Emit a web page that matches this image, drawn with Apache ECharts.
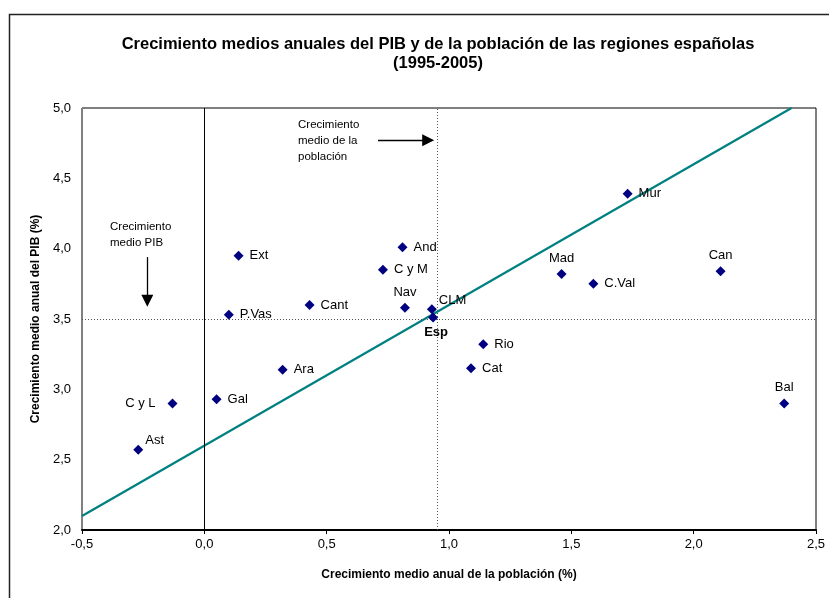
<!DOCTYPE html>
<html>
<head>
<meta charset="utf-8">
<script src="https://cdn.jsdelivr.net/npm/echarts@6/dist/echarts.min.js"></script>
<style>
html,body{margin:0;padding:0;background:#fff;}
#chart{width:829px;height:598px;}
</style>
</head>
<body>
<div id="chart"></div>
<script>
// Data
const regions   = ['Ext','And','C y M','Nav','CLM','Esp','P.Vas','Cant','Mur','Mad','C.Val','Can','Rio','Cat','Bal','Ara','Gal','C y L','Ast'];
const popGrowth = [0.14, 0.81, 0.73, 0.82, 0.93, 0.935, 0.10, 0.43, 1.73, 1.46, 1.59, 2.11, 1.14, 1.09, 2.37, 0.32, 0.05, -0.13, -0.27];
const gdpGrowth = [3.95, 4.01, 3.85, 3.58, 3.57, 3.51, 3.53, 3.60, 4.39, 3.82, 3.75, 3.84, 3.32, 3.15, 2.90, 3.14, 2.93, 2.90, 2.57];
const labelPlace = ['right','right','right','top','topright','bottom','right','right','right','top','right','top','right','right','top','right','right','left','topright'];
const trendX = [-0.5, 2.4];
const trendY = [2.1, 5.0];
const meanPop = 0.95;
const meanGdp = 3.5;
const xTicks = [-0.5, 0, 0.5, 1.0, 1.5, 2.0, 2.5];
const yTicks = [2.0, 2.5, 3.0, 3.5, 4.0, 4.5, 5.0];
const arrowPop = [[0.71, 4.77], [0.915, 4.77]];
const arrowGdp = [[-0.233, 3.94], [-0.233, 3.63]];

const FONT = 'Liberation Sans, Arial, sans-serif';
const fmt = v => v.toFixed(1).replace('.', ',');

function labelFor(p, i) {
  const base = {show: true, formatter: regions[i], color: '#000', fontSize: 13, fontFamily: FONT};
  if (p === 'right') return Object.assign(base, {position: 'right', distance: 6});
  if (p === 'left') return Object.assign(base, {position: 'left', distance: 12});
  if (p === 'top') return Object.assign(base, {position: 'top', distance: 4});
  if (p === 'bottom') return Object.assign(base, {position: 'bottom', distance: 3, fontWeight: 'bold', offset: [3, 0]});
  if (p === 'topright') return Object.assign(base, {position: 'right', distance: 2, offset: [0, -9]});
  return base;
}

const points = regions.map((r, i) => ({
  value: [popGrowth[i], gdpGrowth[i]],
  label: labelFor(labelPlace[i], i)
}));

const chart = echarts.init(document.getElementById('chart'), null, {renderer: 'canvas'});
chart.setOption({
  animation: false,
  backgroundColor: '#fff',
  grid: {left: 82, right: 13, top: 108, bottom: 68, show: true, borderColor: '#000', borderWidth: 1},
  title: {
    text: 'Crecimiento medios anuales del PIB y de la población de las regiones españolas\n(1995-2005)',
    left: 433, top: 30, textAlign: 'center',
    textStyle: {fontFamily: FONT, fontSize: 16.5, fontWeight: 'bold', color: '#000', lineHeight: 19}
  },
  xAxis: {
    type: 'value', min: xTicks[0], max: xTicks[xTicks.length - 1], interval: 0.5,
    name: 'Crecimiento medio anual de la población (%)',
    nameLocation: 'middle', nameGap: 39,
    nameTextStyle: {fontFamily: FONT, fontSize: 12, fontWeight: 'bold', color: '#000'},
    axisLine: {onZero: false, lineStyle: {color: '#000', width: 2}},
    axisTick: {show: true, inside: false, length: 4, lineStyle: {color: '#000'}},
    axisLabel: {formatter: fmt, fontFamily: FONT, fontSize: 13, color: '#000', margin: 8},
    splitLine: {show: false}
  },
  yAxis: {
    type: 'value', min: yTicks[0], max: yTicks[yTicks.length - 1], interval: 0.5,
    name: 'Crecimiento medio anual del PIB (%)',
    nameLocation: 'middle', nameGap: 39, nameRotate: 90,
    nameTextStyle: {fontFamily: FONT, fontSize: 12, fontWeight: 'bold', color: '#000'},
    axisLine: {onZero: false, lineStyle: {color: '#808080', width: 1}},
    axisTick: {show: false},
    axisLabel: {formatter: fmt, fontFamily: FONT, fontSize: 13, color: '#000', margin: 11},
    splitLine: {show: false}
  },
  series: [
    {
      type: 'line',
      data: trendX.map((x, i) => [x, trendY[i]]),
      showSymbol: false, symbol: 'none',
      lineStyle: {color: '#008080', width: 2.2},
      silent: true, z: 2,
      markLine: {
        silent: true, symbol: 'none', label: {show: false},
        data: [
          {xAxis: 0, lineStyle: {color: '#000', type: 'solid', width: 1}},
          {xAxis: meanPop, lineStyle: {color: '#555', type: [1, 2], width: 1}},
          {yAxis: meanGdp, lineStyle: {color: '#555', type: [1, 2], width: 1}}
        ]
      }
    },
    {
      type: 'line', data: [], silent: true,
      markLine: {
        silent: true, symbol: ['none', 'triangle'], symbolSize: [12, 12], label: {show: false},
        lineStyle: {color: '#000', type: 'solid', width: 1.3},
        data: [
          [{coord: arrowPop[0]}, {coord: arrowPop[1]}],
          [{coord: arrowGdp[0]}, {coord: arrowGdp[1]}]
        ]
      }
    },
    {
      type: 'scatter', data: points, symbol: 'diamond', symbolSize: 10,
      itemStyle: {color: '#000080', opacity: 1}, z: 5
    }
  ],
  graphic: [
    {type: 'rect', left: 7, top: 12, shape: {width: 900, height: 700}, style: {fill: 'none', stroke: '#222', lineWidth: 1.5}, silent: true},
    {type: 'text', left: 298, top: 117, style: {text: 'Crecimiento\nmedio de la\npoblación', font: '11.5px ' + FONT, fill: '#000', lineHeight: 16}},
    {type: 'text', left: 110, top: 219, style: {text: 'Crecimiento\nmedio PIB', font: '11.5px ' + FONT, fill: '#000', lineHeight: 16}}
  ]
});
</script>
</body>
</html>
